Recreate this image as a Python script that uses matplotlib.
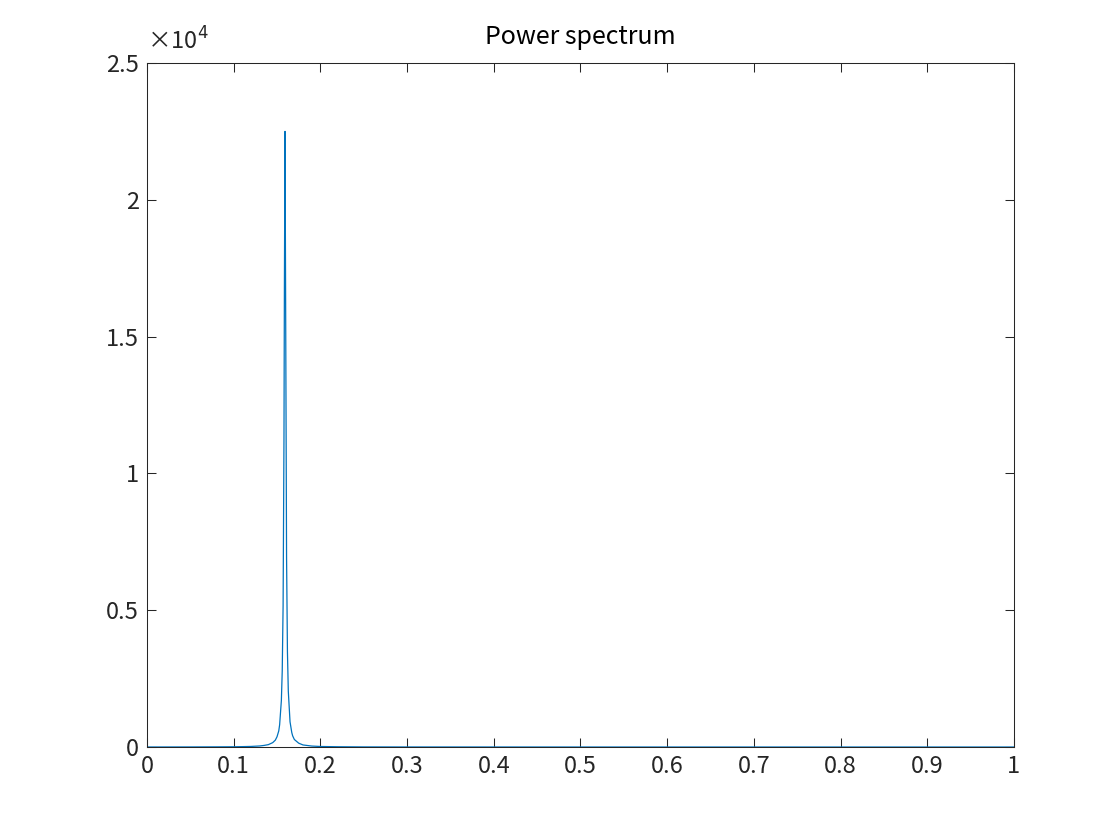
import matplotlib
matplotlib.use('Agg')
import matplotlib.pyplot as plt
from matplotlib.ticker import FuncFormatter

plt.rcParams['font.family'] = ['Noto Sans CJK JP', 'DejaVu Sans']

# frequency (normalised) and power
freq = [0.0, 0.05, 0.08, 0.10, 0.11, 0.12, 0.13, 0.135, 0.14, 0.145, 0.148,
        0.15, 0.152, 0.153, 0.155, 0.156, 0.157, 0.158, 0.1585, 0.1592,
        0.160, 0.161, 0.162, 0.163, 0.165, 0.167, 0.168, 0.17, 0.175,
        0.18, 0.19, 0.20, 0.22, 0.25, 0.30, 0.50, 1.0]
power = [1, 3, 6, 9, 14, 21, 38, 58, 87, 160, 250,
         376, 590, 812, 1700, 2780, 5160, 11250, 16800, 22500,
         15570, 6920, 3490, 2040, 920, 530, 410, 274, 140,
         75, 35, 19, 10, 4, 2, 0.5, 0.1]

xticks = [0, 0.1, 0.2, 0.3, 0.4, 0.5, 0.6, 0.7, 0.8, 0.9, 1]
xlabels = ['0', '0.1', '0.2', '0.3', '0.4', '0.5', '0.6', '0.7', '0.8', '0.9', '1']
yticks = [0, 5000, 10000, 15000, 20000, 25000]

fig = plt.figure(figsize=(11.2, 8.4), dpi=100)
ax = fig.add_axes([0.13125, 0.1107, 0.774, 0.8143])
ax.plot(freq, power, color='#0072BD', linewidth=0.9)

ax.set_xlim(0, 1)
ax.set_ylim(0, 25000)
ax.set_xticks(xticks)
ax.set_xticklabels(xlabels)
ax.set_yticks(yticks)
ax.yaxis.set_major_formatter(FuncFormatter(lambda v, p: f'{v/1e4:g}'))

ax.tick_params(direction='in', length=6.5, width=0.75, top=True, right=True,
               labelsize=17, colors='#262626', pad=6)
for s in ax.spines.values():
    s.set_linewidth(0.75)
    s.set_color('#262626')

ax.set_title('Power spectrum', fontsize=18, color='black', pad=14)
ax.text(0.0, 1.012, '×10$^4$', transform=ax.transAxes, fontsize=17,
        color='#262626', ha='left', va='bottom')

fig.savefig('out.png', dpi=100)
